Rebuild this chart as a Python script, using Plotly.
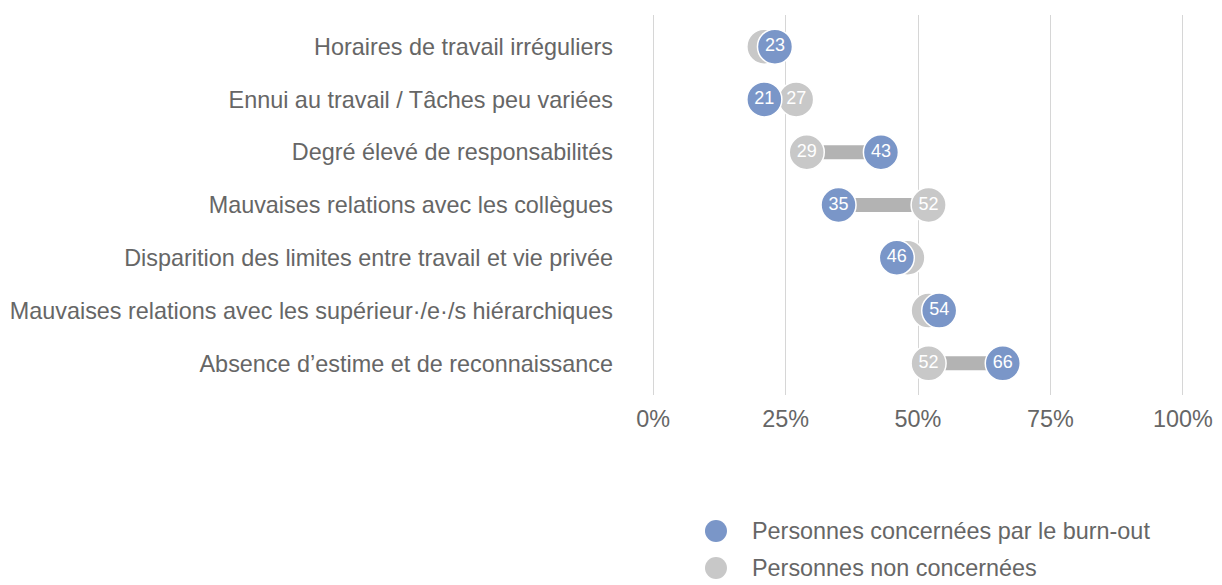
import plotly.graph_objects as go

categories = [
    "Horaires de travail irréguliers",
    "Ennui au travail / Tâches peu variées",
    "Degré élevé de responsabilités",
    "Mauvaises relations avec les collègues",
    "Disparition des limites entre travail et vie privée",
    "Mauvaises relations avec les supérieur·/e·/s hiérarchiques",
    "Absence d’estime et de reconnaissance",
]
burnout = [23, 21, 43, 35, 46, 54, 66]
non_concernees = [21, 27, 29, 52, 48, 52, 52]
x_ticks = [0, 25, 50, 75, 100]
x_tick_labels = ["0%", "25%", "50%", "75%", "100%"]
series_names = ["Personnes concernées par le burn-out", "Personnes non concernées"]

BLUE = "#7a96c8"
GREY = "#c8c8c8"
BAR = "#b3b3b3"
TXT = "#666666"
FONT = "Liberation Sans, Arial, Helvetica, sans-serif"
FS = 23.4

fig = go.Figure()

# connectors
lx, ly = [], []
for c, a, b in zip(categories, non_concernees, burnout):
    lx += [a, b, None]
    ly += [c, c, None]
fig.add_trace(go.Scatter(x=lx, y=ly, mode="lines", line=dict(color=BAR, width=14),
                         showlegend=False, hoverinfo="skip"))

# grey labels hidden where the blue dot covers the grey one (as in the reference)
grey_text = [str(v) if abs(v - b) >= 6 else "" for v, b in zip(non_concernees, burnout)]
fig.add_trace(go.Scatter(
    x=non_concernees, y=categories, mode="markers+text",
    name=series_names[1], showlegend=False,
    marker=dict(color=GREY, size=35, line=dict(color="white", width=1.5)),
    text=grey_text, textposition="middle center",
    textfont=dict(color="white", size=18, family=FONT),
))
fig.add_trace(go.Scatter(
    x=burnout, y=categories, mode="markers+text",
    name=series_names[0], showlegend=False,
    marker=dict(color=BLUE, size=35, line=dict(color="white", width=1.5)),
    text=[str(v) for v in burnout], textposition="middle center",
    textfont=dict(color="white", size=18, family=FONT),
))

# manual legend (larger symbols than plotly's native legend allows)
leg_x_marker = 0.1217
leg_x_text = 0.185
leg_ys = [-0.3579, -0.4553]
for name, col, ly_ in zip(series_names, [BLUE, GREY], leg_ys):
    fig.add_shape(type="circle", xref="paper", yref="paper",
                  xsizemode="pixel", ysizemode="pixel",
                  xanchor=leg_x_marker, yanchor=ly_,
                  x0=-11, x1=11, y0=-11, y1=11,
                  fillcolor=col, line=dict(width=0))
    fig.add_annotation(x=leg_x_text, y=ly_, xref="paper", yref="paper",
                       text=name, showarrow=False, xanchor="left", yanchor="middle",
                       font=dict(size=FS, color=TXT, family=FONT))

fig.update_layout(
    width=1214, height=577,
    margin=dict(l=643, r=37, t=7, b=190, autoexpand=False),
    paper_bgcolor="white", plot_bgcolor="white",
    font=dict(family=FONT, color=TXT, size=FS),
    xaxis=dict(range=[-0.4, 100.4], tickvals=x_ticks, ticktext=x_tick_labels,
               showgrid=True, gridcolor="#d6d6d6", gridwidth=1, zeroline=False,
               showline=False, ticks="", ticklabelstandoff=8, automargin=False,
               tickfont=dict(size=FS, color=TXT)),
    yaxis=dict(categoryorder="array", categoryarray=categories,
               range=[6.6, -0.6], showgrid=False, zeroline=False, ticks="",
               ticklabelstandoff=37, automargin=False,
               tickfont=dict(size=FS, color=TXT)),
    showlegend=False,
)

fig.write_html("out.html")
